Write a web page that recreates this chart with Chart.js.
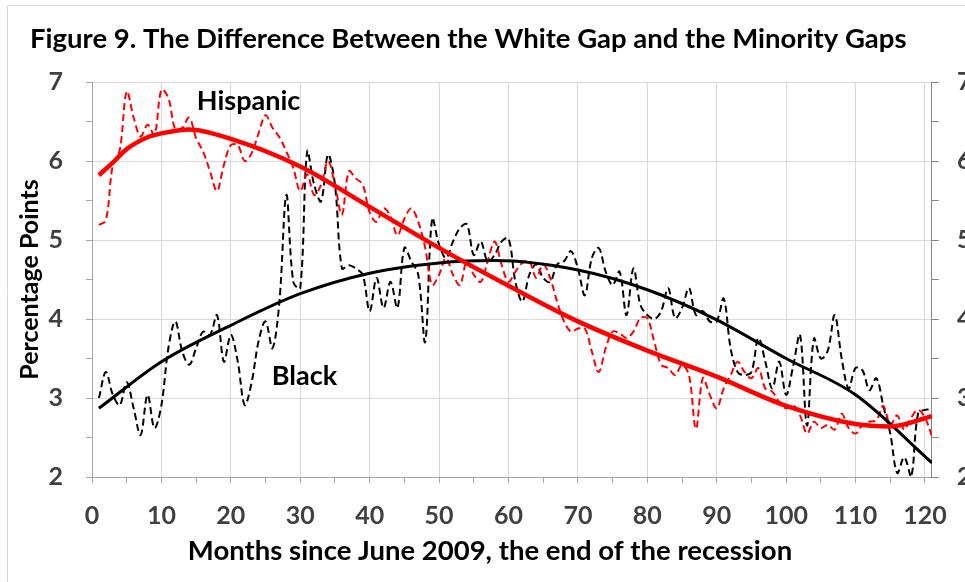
<!DOCTYPE html>
<html>
<head>
<meta charset="utf-8">
<title>Figure 9</title>
<script src="https://cdn.jsdelivr.net/npm/chart.js@4.4.1/dist/chart.umd.min.js"></script>
<style>
  html, body { margin: 0; padding: 0; background: #fff; }
  #wrap { width: 965px; height: 582px; }
</style>
</head>
<body>
<div id="wrap"><canvas id="myChart" width="965" height="582"></canvas></div>
<script>
// monthly gaps, month 1 .. 121 (months since June 2009)
const firstMonth = 1;

const hispanic = [
  5.19, 5.25, 5.95, 6.14, 6.88, 6.55, 6.31, 6.46, 6.33, 6.90,
  6.80, 6.40, 6.42, 6.55, 6.29, 6.12, 5.87, 5.62, 5.95, 6.20,
  6.20, 6.00, 6.10, 6.35, 6.58, 6.42, 6.30, 6.12, 5.91, 5.62,
  5.83, 5.57, 5.70, 6.00, 5.70, 5.32, 5.87, 5.78, 5.70, 5.35,
  5.23, 5.40, 5.30, 5.06, 5.27, 5.40, 5.23, 4.90, 4.43, 4.56,
  4.77, 4.56, 4.43, 4.73, 4.56, 4.47, 4.73, 4.98, 4.69, 4.47,
  4.60, 4.71, 4.73, 4.52, 4.69, 4.52, 4.22, 3.97, 3.84, 3.88,
  3.88, 3.59, 3.33, 3.63, 3.84, 3.82, 3.76, 3.84, 4.01, 4.01,
  3.71, 3.42, 3.38, 3.29, 3.42, 3.29, 2.61, 3.25, 3.04, 2.87,
  3.12, 3.29, 3.46, 3.33, 3.25, 3.38, 3.12, 3.08, 2.95, 2.87,
  2.91, 2.78, 2.55, 2.70, 2.62, 2.66, 2.60, 2.80, 2.62, 2.55,
  2.66, 2.70, 2.72, 2.90, 2.66, 2.78, 2.60, 2.75, 2.85, 2.75,
  2.52
];

const black = [
  3.00, 3.33, 3.04, 2.91, 3.20, 2.87, 2.53, 3.04, 2.62, 2.91,
  3.63, 3.97, 3.59, 3.42, 3.63, 3.84, 3.80, 4.05, 3.46, 3.80,
  3.46, 2.91, 3.20, 3.72, 3.97, 3.63, 4.22, 5.57, 4.47, 4.39,
  6.12, 5.70, 5.49, 6.08, 5.70, 4.64, 4.68, 4.64, 4.56, 4.10,
  4.52, 4.14, 4.47, 4.14, 4.90, 4.73, 4.56, 3.71, 5.27, 4.94,
  4.77, 4.98, 5.15, 5.20, 4.81, 4.98, 4.73, 4.81, 4.98, 5.02,
  4.47, 4.22, 4.56, 4.69, 4.52, 4.47, 4.69, 4.73, 4.86, 4.64,
  4.30, 4.77, 4.90, 4.60, 4.43, 4.60, 4.05, 4.64, 4.18, 4.05,
  4.00, 4.10, 4.39, 4.01, 4.14, 4.39, 4.05, 4.10, 3.97, 3.97,
  4.26, 3.63, 3.33, 3.29, 3.33, 3.76, 3.46, 3.12, 3.46, 3.04,
  3.40, 3.80, 2.65, 3.75, 3.50, 3.60, 4.05, 3.50, 3.12, 3.38,
  3.35, 3.10, 3.25, 2.90, 2.55, 2.05, 2.25, 2.00, 2.80, 2.85,
  2.85
];

// fitted trend curves
const hispanicTrendMonths = [1, 3, 5, 8, 10, 14, 20, 30, 40, 50, 60, 70, 80, 90, 100, 110, 115, 121];
const hispanicTrend = [5.82, 5.98, 6.15, 6.30, 6.35, 6.40, 6.28, 5.93, 5.42, 4.90, 4.42, 3.97, 3.60, 3.27, 2.90, 2.67, 2.64, 2.77];

const blackTrendMonths = [1, 10, 20, 30, 40, 50, 58, 70, 80, 90, 100, 110, 121];
const blackTrend = [2.87, 3.46, 3.92, 4.32, 4.58, 4.71, 4.74, 4.62, 4.37, 3.99, 3.50, 3.04, 2.18];

const xTickLabels = [0, 10, 20, 30, 40, 50, 60, 70, 80, 90, 100, 110, 120];
const yTickLabels = [2, 3, 4, 5, 6, 7];

const titleText = 'Figure 9. The Difference Between the White Gap and the Minority Gaps';
const xTitle = 'Months since June 2009, the end of the recession';
const yTitle = 'Percentage Points';

const FONT = 'Lato, "Open Sans", sans-serif';
const GRID = '#d9d9d9';
const NONE = 'rgba(0,0,0,0)';

function toPoints(values) {
    return values.map((v, i) => ({ x: firstMonth + i, y: v }));
}

function pair(xs, ys) {
    return xs.map((x, i) => ({ x: x, y: ys[i] }));
}

const textPlugin = {
    id: 'texts',
    beforeDraw(chart) {
        const ctx = chart.ctx;
        ctx.save();
        ctx.fillStyle = '#fff';
        ctx.fillRect(0, 0, chart.width, chart.height);
        ctx.strokeStyle = GRID;
        ctx.lineWidth = 1;
        ctx.beginPath();
        ctx.moveTo(7.5, chart.height);
        ctx.lineTo(7.5, 5.5);
        ctx.lineTo(chart.width, 5.5);
        ctx.stroke();
        ctx.restore();
    },
    afterDraw(chart) {
        const ctx = chart.ctx;
        const xs = chart.scales.x;
        const ys = chart.scales.y;
        ctx.save();
        ctx.fillStyle = '#000';
        ctx.textBaseline = 'alphabetic';
        ctx.textAlign = 'left';
        ctx.font = 'bold 27.5px ' + FONT;
        ctx.fillText(titleText, 30, 48);
        ctx.textAlign = 'center';
        ctx.fillText(xTitle, 490, 560);
        ctx.textAlign = 'left';
        ctx.font = 'bold 27px ' + FONT;
        ctx.fillText('Hispanic', xs.getPixelForValue(15.1), ys.getPixelForValue(6.65));
        ctx.fillText('Black', xs.getPixelForValue(25.9), ys.getPixelForValue(3.16));
        ctx.restore();
    }
};

const tickFont = { family: FONT, size: 25, weight: 'bold' };

new Chart(document.getElementById('myChart').getContext('2d'), {
    type: 'scatter',
    data: {
        datasets: [
            {
                label: 'Hispanic trend',
                data: pair(hispanicTrendMonths, hispanicTrend),
                showLine: true,
                borderColor: '#ff0000',
                borderWidth: 4.5,
                pointRadius: 0,
                cubicInterpolationMode: 'monotone'
            },
            {
                label: 'Black trend',
                data: pair(blackTrendMonths, blackTrend),
                showLine: true,
                borderColor: '#000000',
                borderWidth: 3,
                pointRadius: 0,
                cubicInterpolationMode: 'monotone'
            },
            {
                label: 'Hispanic',
                data: toPoints(hispanic),
                showLine: true,
                borderColor: '#ff0000',
                borderWidth: 2,
                borderDash: [7, 4],
                pointRadius: 0,
                tension: 0.35
            },
            {
                label: 'Black',
                data: toPoints(black),
                showLine: true,
                borderColor: '#000000',
                borderWidth: 2,
                borderDash: [7, 4],
                pointRadius: 0,
                tension: 0.35
            }
        ]
    },
    options: {
        responsive: false,
        animation: false,
        events: [],
        layout: { padding: { left: 0, right: 0, top: 82, bottom: 0 } },
        plugins: {
            legend: { display: false },
            tooltip: { enabled: false },
            title: { display: false }
        },
        scales: {
            x: {
                type: 'linear',
                min: 0,
                max: 121,
                afterFit: s => { s.height = 105; },
                ticks: {
                    stepSize: 5,
                    includeBounds: false,
                    autoSkip: false,
                    maxRotation: 0,
                    padding: 18,
                    color: '#404040',
                    font: tickFont,
                    callback: v => xTickLabels.includes(v) ? v : ''
                },
                grid: {
                    color: c => (c.tick && xTickLabels.includes(c.tick.value)) ? GRID : NONE,
                    tickColor: '#a6a6a6',
                    tickLength: 6,
                    lineWidth: 1
                },
                border: { color: '#a6a6a6', width: 1 }
            },
            y: {
                position: 'left',
                min: 2,
                max: 7,
                afterFit: s => { s.width = 92; },
                ticks: {
                    stepSize: 0.5,
                    padding: 23,
                    color: '#404040',
                    font: tickFont,
                    callback: v => yTickLabels.includes(v) ? v : ''
                },
                grid: {
                    color: c => (c.tick && yTickLabels.includes(c.tick.value)) ? GRID : NONE,
                    tickColor: '#a6a6a6',
                    tickLength: 6,
                    lineWidth: 1
                },
                border: { color: '#a6a6a6', width: 1 },
                title: {
                    display: true,
                    text: yTitle,
                    color: '#000',
                    font: { family: FONT, size: 25, weight: 'bold' },
                    padding: { top: 15, bottom: 0 }
                }
            },
            y2: {
                position: 'right',
                min: 2,
                max: 7,
                afterFit: s => { s.width = 33; },
                ticks: {
                    stepSize: 0.5,
                    padding: 18,
                    color: '#404040',
                    font: tickFont,
                    callback: v => yTickLabels.includes(v) ? v : ''
                },
                grid: {
                    drawOnChartArea: false,
                    tickColor: '#868686',
                    tickLength: 7
                },
                border: { color: '#868686', width: 1 }
            }
        }
    },
    plugins: [textPlugin]
});
</script>
</body>
</html>
